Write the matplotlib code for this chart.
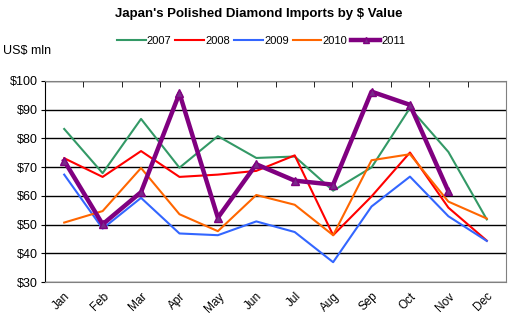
import matplotlib.pyplot as plt
import numpy as np

plt.rcParams['font.family'] = ['Liberation Sans', 'DejaVu Sans']

months = ['Jan', 'Feb', 'Mar', 'Apr', 'May', 'Jun',
          'Jul', 'Aug', 'Sep', 'Oct', 'Nov', 'Dec']

y2007 = [83.3, 67.9, 86.8, 69.8, 80.8, 73.2, 73.7, 61.8, 69.9, 90.6, 75.3, 51.8]
y2008 = [73.1, 66.6, 75.6, 66.6, 67.4, 68.7, 74.1, 46.3, 59.8, 75.1, 55.9, 44.4]
y2009 = [67.4, 48.6, 59.3, 46.9, 46.3, 51.1, 47.4, 36.9, 56.3, 66.7, 52.9, 44.3]
y2010 = [50.7, 54.7, 69.7, 53.6, 47.7, 60.3, 56.9, 46.3, 72.4, 74.5, 58.0, 52.1]
y2011 = [72.2, 50.1, 61.3, 95.7, 52.4, 71.0, 65.3, 63.9, 96.3, 91.7, 61.6]

yticks = [30, 40, 50, 60, 70, 80, 90, 100]

fig = plt.figure(figsize=(5.13, 3.26), dpi=100)
ax = fig.add_axes([45 / 513, 1 - 282 / 326, 461 / 513, 201 / 326])

x = np.arange(len(months))
ax.plot(x, y2007, color='#339966', lw=1.5, label='2007')
ax.plot(x, y2008, color='#ff0000', lw=1.5, label='2008')
ax.plot(x, y2009, color='#3366ff', lw=1.5, label='2009')
ax.plot(x, y2010, color='#ff6600', lw=1.5, label='2010')
ax.plot(np.arange(len(y2011)), y2011, color='#800080', lw=3.2,
        marker='^', markersize=6, markerfacecolor='#7a2a8a',
        markeredgecolor='#800080', label='2011')

ax.set_xlim(-0.5, 11.5)
ax.set_ylim(30, 100)
ax.set_yticks(yticks)
ax.set_yticklabels(['$%d' % v for v in yticks], fontsize=9)
ax.yaxis.grid(True, color='black', lw=1)
ax.set_axisbelow(True)

ax.set_xticks(x)
ax.set_xticklabels(months, rotation=45, ha='right', rotation_mode='anchor', fontsize=8.5)
ax.set_xticks(np.arange(-0.5, 12, 1), minor=True)
ax.tick_params(axis='x', which='major', length=0, pad=6)
ax.tick_params(axis='x', which='minor', top=True, bottom=False,
               direction='in', length=4, color='black')
ax.tick_params(axis='y', length=3, color='black', pad=2)

for side in ['top', 'right', 'bottom']:
    ax.spines[side].set_color('#808080')
ax.spines['left'].set_color('black')

fig.text(259 / 513, 1 - 14 / 326, "Japan's Polished Diamond Imports by $ Value",
         ha='center', va='center', fontsize=9.5, fontweight='bold')
fig.text(3 / 513, 1 - 51 / 326, 'US$ mln', ha='left', va='center', fontsize=9)

fig.legend(loc='center', bbox_to_anchor=(261 / 513, 1 - 41 / 326), ncol=5,
           frameon=False, fontsize=8, handlelength=2.6, handletextpad=0.1,
           columnspacing=0.35, borderaxespad=0, markerscale=0.7)

fig.savefig('out.png', dpi=100)
